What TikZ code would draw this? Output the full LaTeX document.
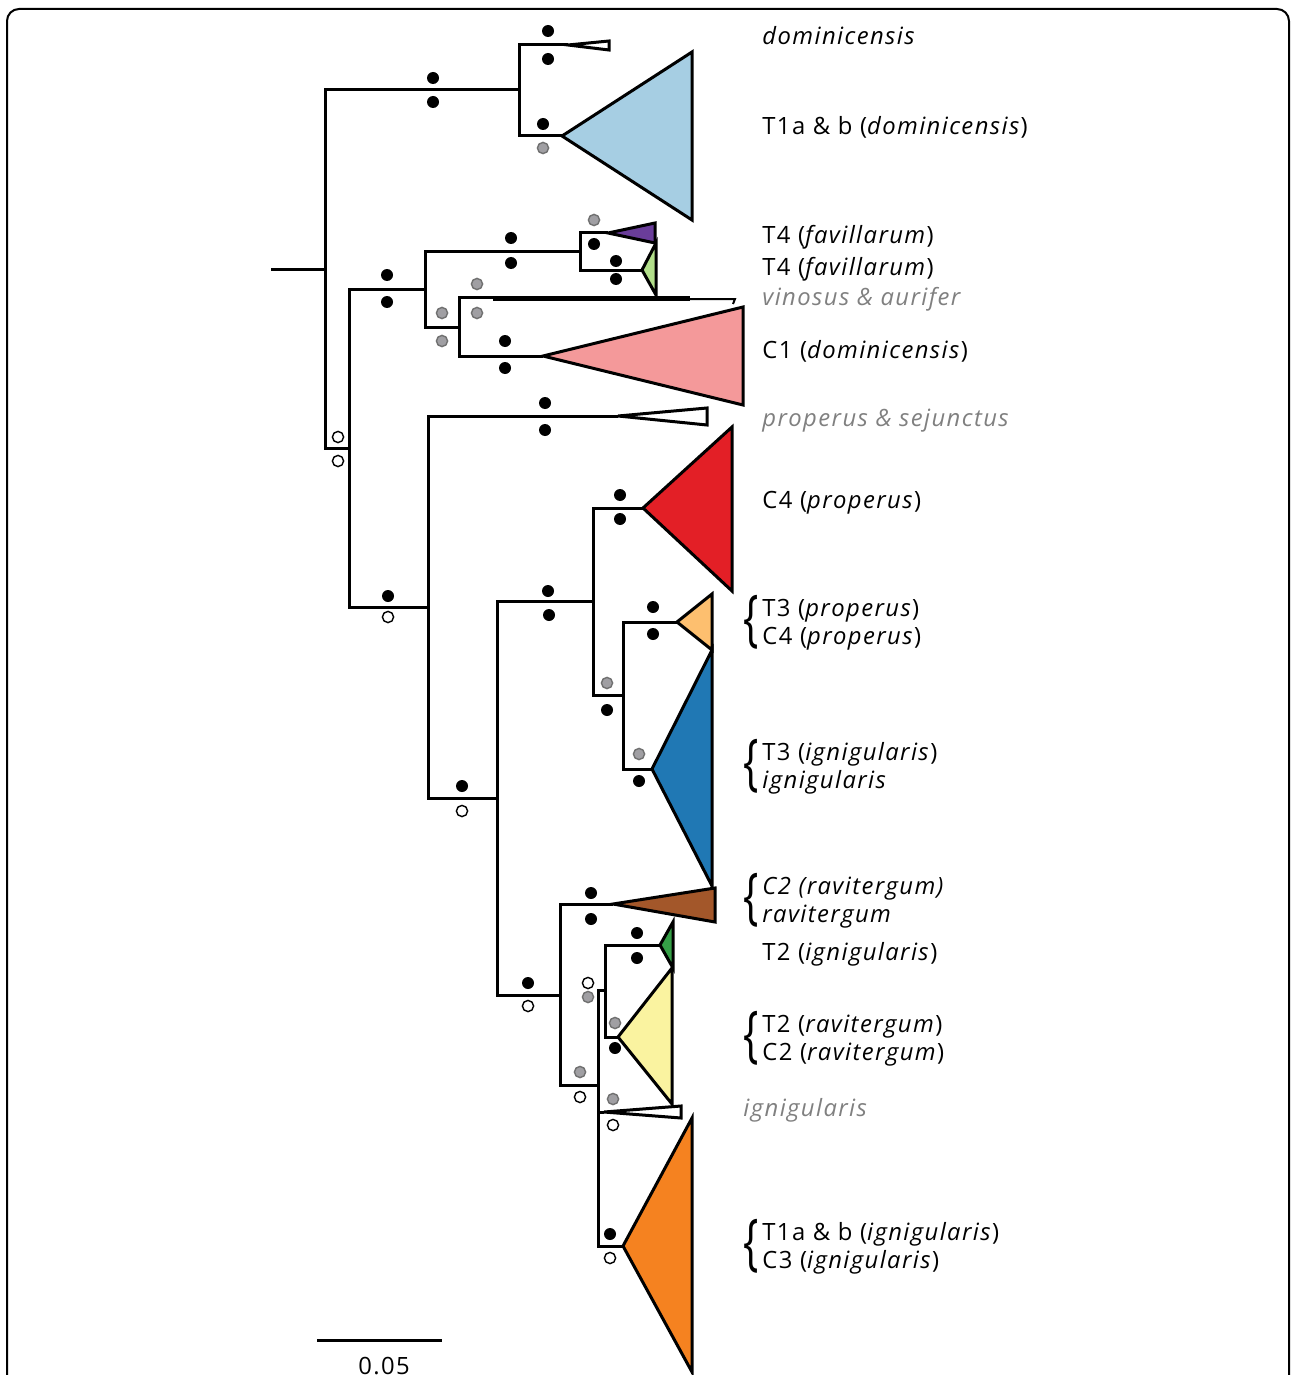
\documentclass[tikz,border=0pt]{standalone}
\usepackage{fontspec}
\setmainfont{Open Sans}[LetterSpace=6]
\usetikzlibrary{positioning,calc}

\definecolor{cLtBlue}{HTML}{A6CEE3}
\definecolor{cPurple}{HTML}{6A3D9A}
\definecolor{cLtGreen}{HTML}{B2DF8A}
\definecolor{cPink}{HTML}{F4999A}
\definecolor{cRed}{HTML}{E31F26}
\definecolor{cLtOrange}{HTML}{FDBF6F}
\definecolor{cBlue}{HTML}{2078B4}
\definecolor{cBrown}{HTML}{A3572A}
\definecolor{cGreen}{HTML}{35A047}
\definecolor{cYellow}{HTML}{FAF3A0}
\definecolor{cOrange}{HTML}{F58220}
\definecolor{dotfill}{HTML}{A09FA3}
\definecolor{dotline}{HTML}{707070}
\definecolor{labgrey}{HTML}{808080}

\begin{document}
\begin{tikzpicture}[x=0.5pt,y=-0.5pt]

    \tikzstyle{branch} = [line width=1.5pt]
    \tikzstyle{clade} = [draw, line width=1.5pt, line join=miter]
    \tikzstyle{suppfull} = [circle, fill=black, inner sep=0pt, minimum size=6pt]
    \tikzstyle{supppart} = [circle, draw=dotline, fill=dotfill, line width=0.7pt, inner sep=0pt, minimum size=5.6pt]
    \tikzstyle{suppnone} = [circle, draw=black, fill=white, line width=0.7pt, inner sep=0pt, minimum size=5.6pt]
    \tikzstyle{taxon} = [anchor=base west, inner sep=0pt, font=\fontsize{11.9}{13}\selectfont]
    \tikzstyle{taxgrey} = [taxon, text=labgrey]
    \tikzstyle{brc} = [inner sep=0pt, font=\fontsize{11.9}{13}\selectfont]

    \useasboundingbox (0,0) rectangle (1292,1375);
    \clip (0,0) rectangle (1292,1375);
    \draw[line width=1pt, rounded corners=6pt] (7,9) rectangle (1289,1420);

    % internal nodes
    \coordinate (root) at (271,269);
    \coordinate (nA) at (325,269);
    \coordinate (nT) at (519,90);
    \coordinate (nB) at (349,448);
    \coordinate (nC) at (425,289);
    \coordinate (nD) at (580,252);
    \coordinate (nE) at (459,327);
    \coordinate (nF) at (428,607);
    \coordinate (nG) at (497,798);
    \coordinate (nH) at (593,601);
    \coordinate (nI) at (623,695);
    \coordinate (nK) at (560,995);
    \coordinate (nL) at (598,1085);
    \coordinate (nM) at (605,990);

    % clade tips
    \coordinate (tDom) at (568,45);
    \coordinate (tT1) at (562,136);
    \coordinate (tPur) at (608,233);
    \coordinate (tLGr) at (642,270);
    \coordinate (tVin) at (494,297);
    \coordinate (tPnk) at (543,356);
    \coordinate (tPro) at (618,416);
    \coordinate (tRed) at (643,508);
    \coordinate (tLOr) at (677,622);
    \coordinate (tBlu) at (652,769);
    \coordinate (tBrn) at (613,904);
    \coordinate (tGrn) at (660,945);
    \coordinate (tYel) at (618,1037);
    \coordinate (tIgn) at (604,1112);
    \coordinate (tOrg) at (623,1246);

    % collapsed clades
    \draw[clade, fill=white]     (tDom) -- (609,41) -- (609,50) -- cycle;
    \draw[clade, fill=cLtBlue]   (tT1) -- (692,52) -- (692,220) -- cycle;
    \draw[clade, fill=cPurple]   (tPur) -- (655,223) -- (655,243) -- cycle;
    \draw[clade, fill=cLtGreen]  (tLGr) -- (656,243) -- (656,295) -- cycle;
    \draw[clade, fill=black]     (tVin) rectangle (688,299.5);
    \draw[line width=1pt]        (688,299) -- (735,299) -- (733,304);
    \draw[clade, fill=cPink]     (tPnk) -- (743,307) -- (743,405) -- cycle;
    \draw[clade, fill=white]     (tPro) -- (707,408) -- (707,425) -- cycle;
    \draw[clade, fill=cRed]      (tRed) -- (732,427) -- (732,591) -- cycle;
    \draw[clade, fill=cLtOrange] (tLOr) -- (712,594) -- (712,650) -- cycle;
    \draw[clade, fill=cBlue]     (tBlu) -- (712,650) -- (712,886) -- cycle;
    \draw[clade, fill=cBrown]    (tBrn) -- (715,888) -- (715,922) -- cycle;
    \draw[clade, fill=cGreen]    (tGrn) -- (673,922) -- (673,968) -- cycle;
    \draw[clade, fill=cYellow]   (tYel) -- (672,968) -- (672,1104) -- cycle;
    \draw[clade, fill=white]     (tIgn) -- (681,1106) -- (681,1118) -- cycle;
    \draw[clade, fill=cOrange]   (tOrg) -- (692,1118) -- (692,1372) -- cycle;

    % branches
    \draw[branch] (root) -- (nA);
    \draw[branch] (nA) |- (nT);
    \draw[branch] (nA) |- (nB);
    \draw[branch] (nT) |- (tDom);
    \draw[branch] (nT) |- (tT1);
    \draw[branch] (nB) |- (nC);
    \draw[branch] (nB) |- (nF);
    \draw[branch] (nC) |- (nD);
    \draw[branch] (nC) |- (nE);
    \draw[branch] (nD) |- (tPur);
    \draw[branch] (nD) |- (tLGr);
    \draw[branch] (nE) |- (tVin);
    \draw[branch] (nE) |- (tPnk);
    \draw[branch] (nF) |- (tPro);
    \draw[branch] (nF) |- (nG);
    \draw[branch] (nG) |- (nH);
    \draw[branch] (nG) |- (nK);
    \draw[branch] (nH) |- (tRed);
    \draw[branch] (nH) |- (nI);
    \draw[branch] (nI) |- (tLOr);
    \draw[branch] (nI) |- (tBlu);
    \draw[branch] (nK) |- (tBrn);
    \draw[branch] (nK) |- (nL);
    \draw[branch] (nL) |- (nM);
    \draw[branch] (nL) |- (tIgn);
    \draw[branch] (nL) |- (tOrg);
    \draw[branch] (nM) |- (tGrn);
    \draw[branch] (nM) |- (tYel);

    % support values (upper, lower)
    \node[suppfull] (sTa) at (433,78) {};   \node[suppfull] (sTb) at (433,102) {};
    \node[suppfull] (sDa) at (548,31) {};   \node[suppfull] (sDb) at (548,59) {};
    \node[suppfull] (s1a) at (543,124) {};  \node[supppart] (s1b) at (543,148) {};
    \node[supppart] (sPa) at (594,220) {};  \node[suppfull] (sPb) at (594,244) {};
    \node[suppfull] (sGa) at (616,261) {};  \node[suppfull] (sGb) at (616,279) {};
    \node[suppfull] (sDDa) at (511,238) {}; \node[suppfull] (sDDb) at (511,263) {};
    \node[supppart] (sVa) at (477,284) {};  \node[supppart] (sVb) at (477,313) {};
    \node[supppart] (sEa) at (442,313) {};  \node[supppart] (sEb) at (442,341) {};
    \node[suppfull] (sKa) at (505,341) {};  \node[suppfull] (sKb) at (505,368) {};
    \node[suppfull] (sCa) at (387,275) {};  \node[suppfull] (sCb) at (387,302) {};
    \node[suppnone] (sBa) at (338,437) {};  \node[suppnone] (sBb) at (338,461) {};
    \node[suppfull] (sRa) at (545,403) {};  \node[suppfull] (sRb) at (545,430) {};
    \node[suppfull] (sFa) at (388,596) {};  \node[suppnone] (sFb) at (388,617) {};
    \node[suppfull] (sHa) at (620,495) {};  \node[suppfull] (sHb) at (620,519) {};
    \node[suppfull] (sGGa) at (548,591) {}; \node[suppfull] (sGGb) at (549,615) {};
    \node[suppfull] (sOa) at (653,607) {};  \node[suppfull] (sOb) at (653,634) {};
    \node[supppart] (sIa) at (607,683) {};  \node[suppfull] (sIb) at (607,710) {};
    \node[supppart] (sUa) at (639,754) {};  \node[suppfull] (sUb) at (639,781) {};
    \node[suppfull] (sNa) at (462,786) {};  \node[suppnone] (sNb) at (462,811) {};
    \node[suppfull] (sWa) at (591,893) {};  \node[suppfull] (sWb) at (591,919) {};
    \node[suppfull] (sXa) at (637,933) {};  \node[suppfull] (sXb) at (637,958) {};
    \node[suppfull] (sKKa) at (528,983) {}; \node[suppnone] (sKKb) at (528,1006) {};
    \node[suppnone] (sMa) at (588,983) {};  \node[supppart] (sMb) at (588,997) {};
    \node[supppart] (sYa) at (615,1023) {}; \node[suppfull] (sYb) at (615,1048) {};
    \node[supppart] (sLa) at (580,1072) {}; \node[suppnone] (sLb) at (580,1097) {};
    \node[supppart] (sJa) at (613,1099) {}; \node[suppnone] (sJb) at (613,1125) {};
    \node[suppfull] (sQa) at (610,1234) {}; \node[suppnone] (sQb) at (610,1258) {};

    % taxon labels
    \node[taxon] (lDom) at (762,45) {\textit{dominicensis}};
    \node[taxon] (lT1) at (762,135) {T1a \& b (\textit{dominicensis})};
    \node[taxon] (lT4a) at (762,243) {T4 (\textit{favillarum})};
    \node[taxon] (lT4b) at (762,275) {T4 (\textit{favillarum})};
    \node[taxgrey] (lVin) at (762,305) {\textit{vinosus \& aurifer}};
    \node[taxon] (lC1) at (762,358) {C1 (\textit{dominicensis})};
    \node[taxgrey] (lPro) at (762,426) {\textit{properus \& sejunctus}};
    \node[taxon] (lC4) at (762,508) {C4 (\textit{properus})};
    \node[taxon] (lT3p) at (762,616) {T3 (\textit{properus})};
    \node[taxon] (lC4p) at (762,644) {C4 (\textit{properus})};
    \node[taxon] (lT3i) at (762,760) {T3 (\textit{ignigularis})};
    \node[taxon] (lIg1) at (762,788) {\textit{ignigularis}};
    \node[taxon] (lC2r) at (762,894) {\textit{C2 (ravitergum)}};
    \node[taxon] (lRav) at (762,922) {\textit{ravitergum}};
    \node[taxon] (lT2i) at (762,960) {T2 (\textit{ignigularis})};
    \node[taxon] (lT2r) at (762,1032) {T2 (\textit{ravitergum})};
    \node[taxon] (lC2b) at (762,1060) {C2 (\textit{ravitergum})};
    \node[taxgrey] (lIg2) at (743,1116) {\textit{ignigularis}};
    \node[taxon] (lT1i) at (762,1240) {T1a \& b (\textit{ignigularis})};
    \node[taxon] (lC3) at (762,1268) {C3 (\textit{ignigularis})};

    % braces
    \node[brc] (b1) at (751,622) {\scalebox{1.7}[2.6]{\{}};
    \node[brc] (b2) at (751,766) {\scalebox{1.7}[2.6]{\{}};
    \node[brc] (b3) at (751,900) {\scalebox{1.7}[2.6]{\{}};
    \node[brc] (b4) at (751,1038) {\scalebox{1.7}[2.6]{\{}};
    \node[brc] (b5) at (751,1246) {\scalebox{1.7}[2.6]{\{}};

    % scale bar
    \coordinate (sbL) at (317,1340);
    \coordinate (sbR) at (442,1340);
    \draw[line width=1.5pt] (sbL) -- (sbR);
    \node[anchor=base, inner sep=0pt, font=\fontsize{11.9}{13}\selectfont] (sbT) at (384,1374) {0.05};

\end{tikzpicture}
\end{document}
